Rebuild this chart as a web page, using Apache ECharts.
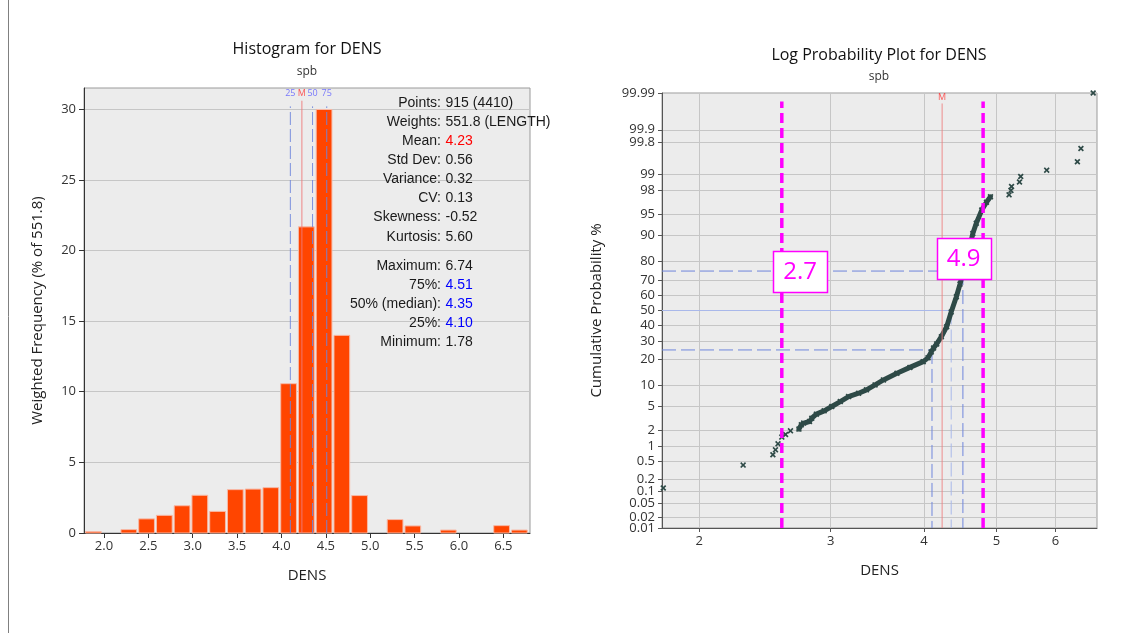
<!DOCTYPE html>
<html><head><meta charset="utf-8">
<script src="https://cdn.jsdelivr.net/npm/echarts@6/dist/echarts.min.js"></script>
<style>html,body{margin:0;padding:0;background:#fff}#c{width:1133px;height:633px}</style>
</head><body><div id="c"></div>
<script>
// ---------------- DATA ----------------
// Histogram (bins of width 0.2 starting at the minimum)
const binStart = 1.78;
const binWidth = 0.2;
const histValues = [0.1, 0, 0.24, 1.0, 1.25, 1.93, 2.67, 1.53, 3.07, 3.11, 3.21, 10.57, 21.67, 29.98, 13.99, 2.65, 0, 0.95, 0.5, 0, 0.21, 0, 0, 0.52, 0.21];
const histXTicks = [2.0, 2.5, 3.0, 3.5, 4.0, 4.5, 5.0, 5.5, 6.0, 6.5];
const histYTicks = [0, 5, 10, 15, 20, 25, 30];

// Marker lines (quartiles + mean)
const markerNames = ['25', 'M', '50', '75'];
const markerValues = [4.10, 4.23, 4.35, 4.51];

// Statistics box
const statLabels = ['Points:', 'Weights:', 'Mean:', 'Std Dev:', 'Variance:', 'CV:', 'Skewness:', 'Kurtosis:', 'Maximum:', '75%:', '50% (median):', '25%:', 'Minimum:'];
const statValues = ['915 (4410)', '551.8 (LENGTH)', '4.23', '0.56', '0.32', '0.13', '-0.52', '5.60', '6.74', '4.51', '4.35', '4.10', '1.78'];
const statKinds = ['n', 'n', 'mean', 'n', 'n', 'n', 'n', 'n', 'n', 'q', 'q', 'q', 'n'];

// Log probability plot points (DENS, cumulative %)
const probDens = [1.79, 2.29, 2.51, 2.53, 2.55, 2.58, 2.61, 2.65, 2.72, 2.74, 2.76, 2.81, 2.83, 2.87, 2.94, 3.01, 3.09, 3.17, 3.27, 3.35, 3.44, 3.53, 3.68, 3.83, 3.99, 4.05, 4.09, 4.12, 4.16, 4.22, 4.29, 4.35, 4.42, 4.47, 4.51, 4.56, 4.61, 4.65, 4.70, 4.78, 4.85, 4.91, 5.20, 5.23, 5.24, 5.37, 5.39, 5.84, 6.42, 6.49, 6.74];
const probCum = [0.12, 0.41, 0.68, 0.86, 1.13, 1.52, 1.70, 1.98, 2.13, 2.53, 2.71, 2.88, 3.28, 3.82, 4.31, 5.03, 5.97, 7.05, 7.87, 8.74, 10.17, 11.77, 14.18, 16.53, 19.1, 20.9, 23.9, 26.1, 28.4, 32.7, 39.1, 49.0, 59.3, 67.4, 74.4, 81.9, 86.5, 90.6, 93.2, 95.7, 96.8, 97.4, 97.6, 98.0, 98.3, 98.6, 98.9, 99.18, 99.45, 99.72, 99.99];
const probTicks = [0.01, 0.02, 0.05, 0.1, 0.2, 0.5, 1, 2, 5, 10, 20, 30, 40, 50, 60, 70, 80, 90, 95, 98, 99, 99.8, 99.9, 99.99];
const probXTicks = [2, 3, 4, 5, 6];
const quartilePct = [25, 50, 75];
const quartileVal = [4.10, 4.35, 4.51];
const meanVal = 4.23;
const cutValues = [2.58, 4.80];
const cutLabels = ['2.7', '4.9'];

// ---------------- HELPERS ----------------
function normInv(p) {
  const a = [-3.969683028665376e+01, 2.209460984245205e+02, -2.759285104469687e+02, 1.383577518672690e+02, -3.066479806614716e+01, 2.506628277459239e+00];
  const b = [-5.447609879822406e+01, 1.615858368580409e+02, -1.556989798598866e+02, 6.680131188771972e+01, -1.328068155288572e+01];
  const c = [-7.784894002430293e-03, -3.223964580411365e-01, -2.400758277161838e+00, -2.549732539343734e+00, 4.374664141464968e+00, 2.938163982698783e+00];
  const d = [7.784695709041462e-03, 3.224671290700398e-01, 2.445134137142996e+00, 3.754408661907416e+00];
  const pl = 0.02425, ph = 1 - pl;
  let q, r;
  if (p < pl) { q = Math.sqrt(-2 * Math.log(p)); return (((((c[0]*q+c[1])*q+c[2])*q+c[3])*q+c[4])*q+c[5]) / ((((d[0]*q+d[1])*q+d[2])*q+d[3])*q+1); }
  if (p <= ph) { q = p - 0.5; r = q*q; return (((((a[0]*r+a[1])*r+a[2])*r+a[3])*r+a[4])*r+a[5])*q / (((((b[0]*r+b[1])*r+b[2])*r+b[3])*r+b[4])*r+1); }
  q = Math.sqrt(-2 * Math.log(1 - p)); return -(((((c[0]*q+c[1])*q+c[2])*q+c[3])*q+c[4])*q+c[5]) / ((((d[0]*q+d[1])*q+d[2])*q+d[3])*q+1);
}
const Z = pct => normInv(pct / 100);
const zMin = Z(probTicks[0]), zMax = Z(probTicks[probTicks.length - 1]);
const zTicks = probTicks.map(Z);
function probLabel(v) {
  let best = 0, bd = Infinity;
  zTicks.forEach((z, i) => { const d = Math.abs(z - v); if (d < bd) { bd = d; best = i; } });
  return String(probTicks[best]);
}

// ---------------- STYLE CONSTANTS ----------------
const AX = '"Open Sans", "Noto Sans", sans-serif';
const ST = '"Liberation Sans", Arial, sans-serif';
const gridLineC = '#c6c6c6';
const bgC = '#ececec';
const qBlue = '#6f86dc';
const qBlueLight = '#a9b8ea';
const meanRed = '#ee7b7b';
const magenta = '#ff00ff';
const ptColor = '#2e4a47';
const xSym = 'path://M0,2L2,0L5,3L8,0L10,2L7,5L10,8L8,10L5,7L2,10L0,8L3,5Z';
const histXMin = 1.775, histXMax = 6.8, histYMax = 31.5;
const probXMin = 1.783, probXMax = 6.82;
const EPS = 1e-6;

// ---------------- SERIES ----------------
const series = [];

// histogram bars
series.push({
  type: 'custom', xAxisIndex: 0, yAxisIndex: 0, z: 2,
  data: histValues.map((v, i) => [binStart + i * binWidth, binStart + (i + 1) * binWidth, v]),
  encode: { x: [0, 1], y: 2 },
  renderItem: function (params, api) {
    const v = api.value(2);
    if (!v) return null;
    const p0 = api.coord([api.value(0), v]);
    const p1 = api.coord([api.value(1), 0]);
    return { type: 'rect', shape: { x: p0[0] + 1, y: p0[1], width: p1[0] - p0[0] - 2, height: p1[1] - p0[1] },
      style: { fill: '#ff4500', stroke: '#f7b9a6', lineWidth: 1 } };
  }
});

// histogram marker lines
markerValues.forEach((v, i) => {
  const isMean = markerNames[i] === 'M';
  series.push({
    type: 'line', xAxisIndex: 0, yAxisIndex: 0, z: 5, symbol: 'none', silent: true,
    data: [[v, 0], [v, isMean ? 30.6 : 30.2]],
    lineStyle: { color: isMean ? meanRed : qBlue, width: 1, type: isMean ? 'solid' : [13, 4], opacity: 0.9 }
  });
});
series.push({
  type: 'scatter', xAxisIndex: 0, yAxisIndex: 0, z: 6, symbolSize: 0, silent: true,
  data: markerValues.map((v, i) => ({ value: [v, 31.15], name: markerNames[i],
    label: { color: markerNames[i] === 'M' ? '#ff3030' : '#5a5aff' } })),
  label: { show: true, position: 'inside', formatter: p => p.name, fontSize: 9, fontFamily: AX }
});

// probability plot: quartile guide lines
quartilePct.forEach((pct, i) => {
  const light = pct === 50;
  const col = light ? qBlueLight : qBlue;
  series.push({
    type: 'line', xAxisIndex: 1, yAxisIndex: 1, z: 3, symbol: 'none', silent: true,
    data: [[probXMin, Z(pct)], [quartileVal[i], Z(pct)]],
    lineStyle: { color: col, width: 1, type: light ? 'solid' : [14, 5] }
  });
  series.push({
    type: 'line', xAxisIndex: 1, yAxisIndex: 1, z: 3, symbol: 'none', silent: true,
    data: [[quartileVal[i], Z(pct)], [quartileVal[i], zMin]],
    lineStyle: { color: col, width: 1, type: [14, 5] }
  });
});

// dense band of the curve
const bandData = [];
probDens.forEach((d, i) => { if (d >= 2.72 && d <= 4.91) bandData.push([d, Z(probCum[i])]); });
series.push({
  type: 'line', xAxisIndex: 1, yAxisIndex: 1, z: 4, symbol: 'none', silent: true,
  data: bandData, lineStyle: { color: ptColor, width: 5, cap: 'round', join: 'round' }
});
// points
series.push({
  type: 'scatter', xAxisIndex: 1, yAxisIndex: 1, z: 5, symbol: xSym, symbolSize: 6, silent: true,
  data: probDens.map((d, i) => [d, Z(probCum[i])]),
  itemStyle: { color: ptColor, opacity: 1 }
});

// mean line
series.push({
  type: 'line', xAxisIndex: 1, yAxisIndex: 1, z: 6, symbol: 'none', silent: true,
  data: [[meanVal, zMin], [meanVal, 3.54]],
  lineStyle: { color: meanRed, width: 1, opacity: 0.85 }
});
series.push({
  type: 'scatter', xAxisIndex: 1, yAxisIndex: 1, z: 6, symbolSize: 0, silent: true,
  data: [{ value: [meanVal, 3.645], name: 'M' }],
  label: { show: true, position: 'inside', formatter: 'M', fontSize: 9, color: '#ff3030', fontFamily: AX }
});

// magenta cut-off lines
cutValues.forEach(v => {
  series.push({
    type: 'line', xAxisIndex: 1, yAxisIndex: 1, z: 7, symbol: 'none', silent: true,
    data: [[v, zMin], [v, 3.575]],
    lineStyle: { color: magenta, width: 3.5, type: [10, 5] }
  });
});

// ---------------- GRAPHIC TEXT ----------------
const graphics = [
  { type: 'line', shape: { x1: 8.5, y1: 0, x2: 8.5, y2: 633 }, style: { stroke: '#808080', lineWidth: 1 } },
  { type: 'text', x: 307, y: 49, style: { text: 'Histogram for DENS', font: '16px ' + AX, fill: '#111', align: 'center', verticalAlign: 'middle', textAlign: 'center', textVerticalAlign: 'middle' } },
  { type: 'text', x: 307, y: 72, style: { text: 'spb', font: '12px ' + AX, fill: '#333', align: 'center', verticalAlign: 'middle', textAlign: 'center', textVerticalAlign: 'middle' } },
  { type: 'text', x: 879, y: 55, style: { text: 'Log Probability Plot for DENS', font: '16px ' + AX, fill: '#111', align: 'center', verticalAlign: 'middle', textAlign: 'center', textVerticalAlign: 'middle' } },
  { type: 'text', x: 879, y: 77, style: { text: 'spb', font: '12px ' + AX, fill: '#333', align: 'center', verticalAlign: 'middle', textAlign: 'center', textVerticalAlign: 'middle' } }
];
statLabels.forEach((lab, i) => {
  const y = 103.3 + i * 19.05 + (i >= 8 ? 10.3 : 0);
  const col = statKinds[i] === 'mean' ? '#ff0000' : (statKinds[i] === 'q' ? '#0000ff' : '#1a1a1a');
  graphics.push({ type: 'text', x: 441, y: y, z: 100, style: { text: lab, font: '14px ' + ST, fill: '#1a1a1a', align: 'right', verticalAlign: 'middle', textAlign: 'right', textVerticalAlign: 'middle' } });
  graphics.push({ type: 'text', x: 445.5, y: y, z: 100, style: { text: statValues[i], font: '14px ' + ST, fill: col, align: 'left', verticalAlign: 'middle', textAlign: 'left', textVerticalAlign: 'middle' } });
});

// ---------------- OPTION ----------------
const axisTxt = { fontSize: 13, color: '#333', fontFamily: AX };
// labels next to the bottom one are split onto an overlay axis so none get dropped
const zTicksMain = zTicks.filter((z, i) => i !== 1);
const zTicksExtra = zTicks.filter((z, i) => i === 1);
const option = {
  animation: false,
  backgroundColor: '#ffffff',
  grid: [
    { left: 84, top: 88, width: 446, height: 445, show: true, backgroundColor: bgC, borderColor: '#9a9a9a', borderWidth: 1 },
    { left: 662, top: 93, width: 435, height: 435, show: true, backgroundColor: bgC, borderColor: '#9a9a9a', borderWidth: 1 }
  ],
  xAxis: [
    { type: 'value', gridIndex: 0, min: histXMin, max: histXMax,
      axisLine: { show: true, onZero: false, lineStyle: { color: '#333' } },
      axisTick: { show: true, length: 5, customValues: histXTicks, lineStyle: { color: '#333' } },
      axisLabel: { customValues: histXTicks, formatter: v => v.toFixed(1), margin: 7, ...axisTxt },
      splitLine: { show: false },
      name: 'DENS', nameLocation: 'middle', nameGap: 35, nameTextStyle: { fontSize: 15, color: '#222', fontFamily: AX } },
    { type: 'log', gridIndex: 1, min: probXMin, max: probXMax, logBase: 10,
      axisLine: { show: true, onZero: false, lineStyle: { color: '#555' } },
      axisTick: { show: true, length: 4, customValues: probXTicks, lineStyle: { color: '#555' } },
      axisLabel: { customValues: probXTicks, formatter: v => String(Math.round(v)), margin: 7, ...axisTxt },
      splitLine: { show: true, lineStyle: { color: gridLineC, width: 1 } },
      minorTick: { show: false }, minorSplitLine: { show: false },
      name: 'DENS', nameLocation: 'middle', nameGap: 35, nameTextStyle: { fontSize: 15, color: '#222', fontFamily: AX } }
  ],
  yAxis: [
    { type: 'value', gridIndex: 0, min: 0, max: histYMax,
      axisLine: { show: true, onZero: false, lineStyle: { color: '#333' } },
      axisTick: { show: true, length: 5, customValues: histYTicks, lineStyle: { color: '#333' } },
      axisLabel: { customValues: histYTicks, margin: 8, ...axisTxt },
      splitLine: { show: true, lineStyle: { color: gridLineC, width: 1 } },
      name: 'Weighted Frequency (% of 551.8)', nameLocation: 'middle', nameGap: 39,
      nameTextStyle: { fontSize: 15, color: '#222', fontFamily: AX } },
    { type: 'value', gridIndex: 1, min: zMin - EPS, max: zMax + EPS,
      axisLine: { show: true, onZero: false, lineStyle: { color: '#555' } },
      axisTick: { show: true, length: 4, customValues: zTicks, lineStyle: { color: '#555' } },
      axisLabel: { customValues: zTicksMain, formatter: v => probLabel(v), margin: 7, showMinLabel: true, showMaxLabel: true,
        hideOverlap: false, ...axisTxt },
      splitLine: { show: true, lineStyle: { color: gridLineC, width: 1 } },
      name: 'Cumulative Probability %', nameLocation: 'middle', nameGap: 58,
      nameTextStyle: { fontSize: 15, color: '#222', fontFamily: AX } },
    { type: 'value', gridIndex: 1, position: 'left', min: zMin - EPS, max: zMax + EPS,
      axisLine: { show: false, onZero: false },
      axisTick: { show: false, customValues: zTicksExtra },
      axisLabel: { customValues: zTicksExtra, formatter: v => probLabel(v), margin: 7, showMinLabel: true, showMaxLabel: true, ...axisTxt },
      splitLine: { show: false } }
  ],
  graphic: { elements: graphics },
  series: series
};
const chart = echarts.init(document.getElementById('c'), null, { renderer: 'canvas' });
chart.setOption(option);

// cut-off label boxes, anchored through the probability grid's scales
const cutAnchors = [[2.73, Z(74.7)], [4.52, Z(81.5)]];
cutLabels.forEach((t, i) => {
  const p = chart.convertToPixel({ gridIndex: 1 }, cutAnchors[i]);
  graphics.push({ type: 'rect', z: 200, shape: { x: Math.round(p[0] - 27) + 0.5, y: Math.round(p[1] - 20.5) + 0.5, width: 54, height: 41 },
    style: { fill: '#ffffff', stroke: magenta, lineWidth: 1.5 } });
  graphics.push({ type: 'text', z: 201, x: p[0], y: p[1] + 1, style: { text: t, font: '24px ' + AX, fill: magenta,
    align: 'center', verticalAlign: 'middle', textAlign: 'center', textVerticalAlign: 'middle' } });
});
chart.setOption(option, true);
</script>
</body></html>
